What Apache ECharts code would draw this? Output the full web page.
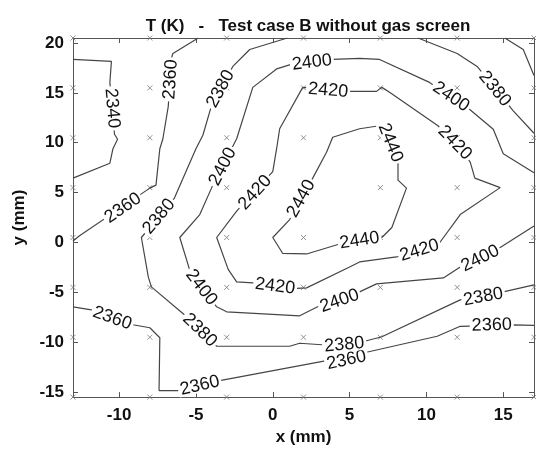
<!DOCTYPE html>
<html>
<head>
<meta charset="utf-8">
<script src="https://cdn.jsdelivr.net/npm/echarts@6/dist/echarts.min.js"></script>
<style>html,body{margin:0;padding:0;background:#fff}#c{width:536px;height:451px}</style>
</head>
<body>
<div id="c"></div>
<script>
// ---- data (mm / K) ----
const xTicks = [-10, -5, 0, 5, 10, 15];
const yTicks = [-15, -10, -5, 0, 5, 10, 15, 20];
const gridX = [-13, -8, -3, 2, 7, 12, 17];
const gridY = [20.5, 15.5, 10.5, 5.5, 0.5, -4.5, -9.5, -15.5];

const c2340 = [[-13,18.35],[-10.5,18.15],[-10.6,16.05],[-10.3,10.85],[-10.1,10.35],[-10.4,9.4],[-10.6,7.95],[-13,6.45]];
const c2360a = [[-4.85,20.5],[-6.5,18.95],[-6.6,18.45],[-6.8,13.65],[-7.15,10.4],[-7.35,9.4],[-7.6,5.75],[-8.0,5.45],[-12.6,0.65],[-13,0.15]];
const c2360b = [[-13,-6.45],[-11.8,-6.75],[-9.1,-8.25],[-8.0,-8.55],[-7.35,-9.55],[-7.4,-14.85],[-6.2,-14.85],[-3.45,-13.85],[3.5,-11.85],[6.1,-11.0],[10.7,-9.4],[12.2,-8.4],[15.65,-8.25],[17,-8.3]];
const c2360c = [[15.1,20.5],[16.3,19.35],[17,16.75]];
const c2380a = [[0.95,20.5],[-1.5,19.35],[-2.6,17.65],[-4.0,13.65],[-4.55,10.75],[-5.0,9.4],[-6.4,4.45],[-8.55,0.5],[-8.1,-3.45],[-7.9,-4.45],[-5.75,-7.25],[-3.65,-10.4],[1.1,-10.4],[1.75,-10.1],[3.2,-10.25],[6.1,-9.85],[7.1,-9.45],[12.2,-5.75],[15.0,-4.95],[17,-4.25]];
const c2380b = [[9.45,20.5],[12.0,18.95],[13.3,17.65],[15.65,13.2],[17,10.95]];
const c2400 = [[17,7.0],[15.0,8.9],[14.35,11.35],[12.8,13.35],[10.2,16.05],[6.95,18.35],[5.65,18.45],[3.9,18.35],[1.2,17.85],[0.25,17.4],[-1.3,15.55],[-2.35,10.4],[-3.9,5.75],[-4.75,2.8],[-6.05,0.5],[-5.4,-2.8],[-5.2,-3.3],[-3.65,-6.45],[-3.0,-6.95],[1.75,-7.35],[3.05,-6.35],[5.65,-4.95],[6.75,-4.15],[11.1,-3.55],[12.2,-2.45],[14.8,-0.5],[17,1.65]];
const c2420 = [[1.95,15.55],[5.1,15.15],[6.75,15.15],[7.1,15.55],[7.6,15.05],[10.75,11.7],[12.2,9.4],[12.85,8.05],[13.15,6.45],[14.8,5.5],[12.2,2.8],[10.8,-0.15],[8.05,-1.45],[5.65,-1.95],[5.0,-2.45],[2.2,-4.55],[1.55,-4.6],[-1.3,-4.05],[-2.35,-3.95],[-2.9,-2.7],[-3.65,0.5],[-2.35,3.15],[0,7.1],[0.25,9.4],[0.45,11.4],[1.95,15.55]];
const c2440 = [[5.65,11.4],[6.95,11.7],[7.2,11.55],[8.15,7.95],[8.15,6.25],[8.7,5.45],[7.75,1.5],[7.1,0.5],[4.35,-0.15],[2.2,-1.15],[0.65,-1.1],[0.0,0.5],[1.1,2.3],[2.6,6.45],[3.5,9.05],[3.9,10.55],[5.65,11.4]];

const lab2340 = [[-10.45,13.45]];
const lab2360 = [[-6.65,16.35],[-9.75,3.45],[-10.45,-7.6],[-4.75,-14.35],[4.8,-11.8],[14.25,-8.3]];
const lab2380 = [[-3.4,15.4],[-7.4,2.6],[-4.75,-8.8],[4.65,-10.25],[13.7,-5.45],[14.45,15.4]];
const lab2400 = [[2.55,18.05],[11.6,14.6],[-3.25,7.6],[-4.65,-4.5],[4.35,-5.85],[13.5,-1.6]];
const lab2420 = [[3.6,15.25],[11.85,10.0],[-1.15,5.0],[0.15,-4.4],[9.55,-0.8]];
const lab2440 = [[7.65,10.0],[1.85,4.4],[5.65,0.2]];

const contours = [
  {level:2340, pts:c2340}, {level:2360, pts:c2360a}, {level:2360, pts:c2360b}, {level:2360, pts:c2360c},
  {level:2380, pts:c2380a}, {level:2380, pts:c2380b}, {level:2400, pts:c2400},
  {level:2420, pts:c2420}, {level:2440, pts:c2440}
];
const labelSets = [[2340,lab2340],[2360,lab2360],[2380,lab2380],[2400,lab2400],[2420,lab2420],[2440,lab2440]];

// ---- build ----
const FONT = '"Liberation Sans", Arial, Helvetica, sans-serif';
const labelData = [];
labelSets.forEach(([lev, arr]) => arr.forEach(p => labelData.push([p[0], p[1], lev])));
const markers = [];
gridX.forEach(x => gridY.forEach(y => markers.push([x, y])));

function segDist(p, a, b) {
  const dx = b[0]-a[0], dy = b[1]-a[1];
  const L = dx*dx + dy*dy;
  let t = L ? ((p[0]-a[0])*dx + (p[1]-a[1])*dy) / L : 0;
  t = Math.max(0, Math.min(1, t));
  const qx = a[0]+t*dx, qy = a[1]+t*dy;
  return Math.hypot(p[0]-qx, p[1]-qy);
}

const axisColor = '#555';
const tickStyle = {color: axisColor, width: 1};
const series = contours.map(c => ({
  type: 'line', data: c.pts, symbol: 'none', silent: true, z: 3,
  lineStyle: {color: '#454545', width: 1.2}, animation: false
}));
series.push({
  type: 'scatter', data: markers, symbol: 'path://M0 0L10 10M10 0L0 10', symbolSize: 5,
  itemStyle: {color: 'rgba(0,0,0,0)', borderColor: '#777', borderWidth: 1}, silent: true, z: 2
});
series.push({
  type: 'custom', data: labelData, z: 10, silent: true,
  renderItem: function (params, api) {
    const lx = api.value(0), ly = api.value(1), lev = api.value(2);
    const p = api.coord([lx, ly]);
    let best = null, bd = Infinity;
    contours.filter(c => c.level === lev).forEach(c => {
      for (let i = 0; i < c.pts.length - 1; i++) {
        const a = api.coord(c.pts[i]), b = api.coord(c.pts[i+1]);
        const d = segDist(p, a, b);
        if (d < bd) { bd = d; best = [a, b]; }
      }
    });
    let ang = Math.atan2(best[1][1]-best[0][1], best[1][0]-best[0][0]);
    if (ang > Math.PI/2) ang -= Math.PI;
    if (ang <= -Math.PI/2) ang += Math.PI;
    return {
      type: 'text', x: p[0], y: p[1], rotation: -ang,
      style: {
        text: String(lev), x: 0, y: 0, fill: '#111',
        font: '18px ' + FONT, align: 'center', verticalAlign: 'middle',
        textAlign: 'center', textVerticalAlign: 'middle',
        backgroundColor: '#fff', padding: [0, 2], lineHeight: 14
      }
    };
  }
});

const chart = echarts.init(document.getElementById('c'), null, {renderer: 'canvas'});
chart.setOption({
  animation: false,
  backgroundColor: '#fff',
  title: {
    text: 'T (K)   -   Test case B without gas screen', left: 303, top: 13, textAlign: 'center',
    textStyle: {fontFamily: FONT, fontSize: 17, fontWeight: 'bold', color: '#111'}
  },
  grid: {left: 73, right: 2, top: 38, bottom: 50},
  xAxis: [{
    type: 'value', min: -13, max: 17, position: 'bottom',
    axisLine: {show: true, onZero: false, lineStyle: tickStyle},
    axisTick: {show: true, inside: true, length: 5, customValues: xTicks, lineStyle: tickStyle},
    axisLabel: {customValues: xTicks, fontFamily: FONT, fontSize: 17, fontWeight: 'bold', color: '#111', margin: 10},
    splitLine: {show: false},
    name: 'x (mm)', nameLocation: 'middle', nameGap: 30,
    nameTextStyle: {fontFamily: FONT, fontSize: 17, fontWeight: 'bold', color: '#111'}
  }, {
    type: 'value', min: -13, max: 17, position: 'top',
    axisLine: {show: true, onZero: false, lineStyle: tickStyle},
    axisTick: {show: true, inside: true, length: 5, customValues: xTicks, lineStyle: tickStyle},
    axisLabel: {show: false}, splitLine: {show: false}
  }],
  yAxis: [{
    type: 'value', min: -15.5, max: 20.5, position: 'left',
    axisLine: {show: true, onZero: false, lineStyle: tickStyle},
    axisTick: {show: true, inside: true, length: 5, customValues: yTicks, lineStyle: tickStyle},
    axisLabel: {customValues: yTicks, fontFamily: FONT, fontSize: 17, fontWeight: 'bold', color: '#111', margin: 9},
    splitLine: {show: false},
    name: 'y (mm)', nameLocation: 'middle', nameGap: 45, nameRotate: 90,
    nameTextStyle: {fontFamily: FONT, fontSize: 17, fontWeight: 'bold', color: '#111'}
  }, {
    type: 'value', min: -15.5, max: 20.5, position: 'right',
    axisLine: {show: true, onZero: false, lineStyle: tickStyle},
    axisTick: {show: true, inside: true, length: 5, customValues: yTicks, lineStyle: tickStyle},
    axisLabel: {show: false}, splitLine: {show: false}
  }],
  series: series
});
</script>
</body>
</html>
